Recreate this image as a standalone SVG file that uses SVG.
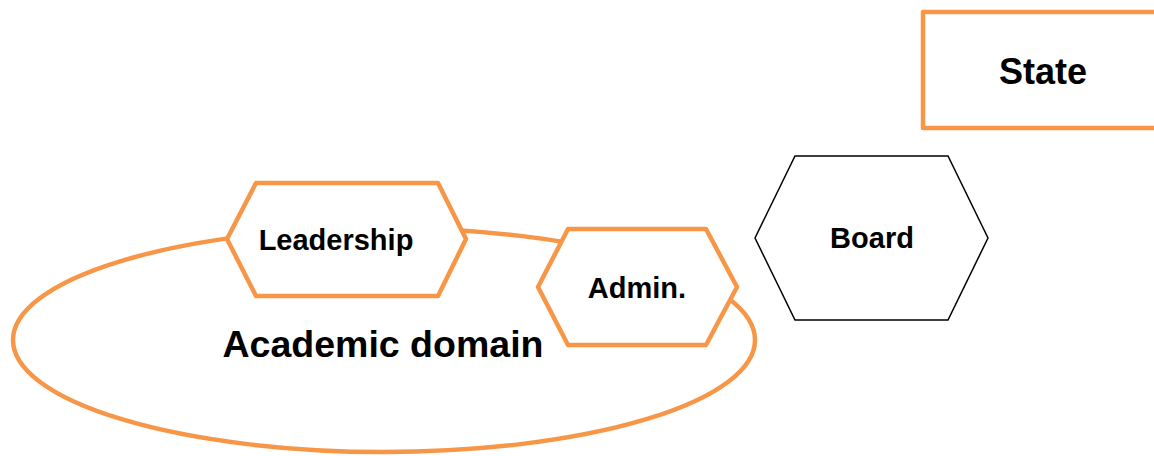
<svg xmlns="http://www.w3.org/2000/svg" width="1154" height="456" viewBox="0 0 1154 456">
  <style>
    .orange { fill: #ffffff; stroke: #F79646; stroke-width: 4.5; stroke-linejoin: round; }
    .plain { fill: #ffffff; stroke: #000000; stroke-width: 1.5; }
    .lbl { font-family: "Liberation Sans", Arial, sans-serif; font-weight: bold; fill: #000000; text-anchor: middle; }
  </style>
  <rect width="1154" height="456" fill="#ffffff"/>

  <g id="academic-domain">
    <ellipse cx="384" cy="340" rx="371" ry="112" fill="none" stroke="#F79646" stroke-width="4.5"/>
    <text class="lbl" x="383" y="356.5" font-size="37.5">Academic domain</text>
  </g>

  <g id="state">
    <rect class="orange" x="923" y="12" width="260" height="116"/>
    <text class="lbl" x="1043" y="84" font-size="36">State</text>
  </g>

  <g id="leadership">
    <polygon class="orange" points="227,239 256,183 438,183 466,239 438,296 256,296"/>
    <text class="lbl" x="336" y="250" font-size="29">Leadership</text>
  </g>

  <g id="admin">
    <polygon class="orange" points="538,287 568,229 706,229 737,287 706,345 568,345"/>
    <text class="lbl" x="637" y="298" font-size="29">Admin.</text>
  </g>

  <g id="board">
    <polygon class="plain" points="755,238 795,156 948,156 988,238 948,320 795,320"/>
    <text class="lbl" x="872" y="248" font-size="29">Board</text>
  </g>

  <g id="connectors"></g>
</svg>
